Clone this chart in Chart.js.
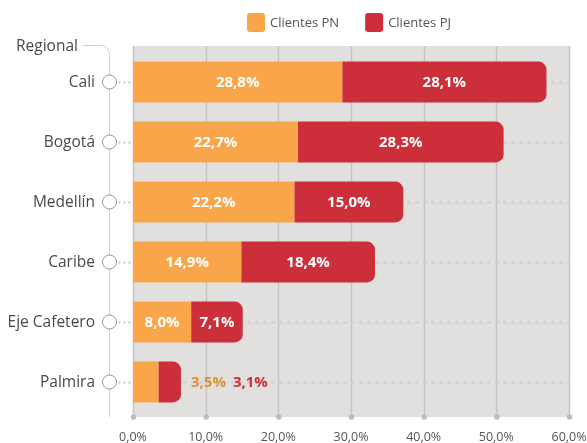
<!DOCTYPE html>
<html>
<head>
<meta charset="utf-8">
<script src="https://cdn.jsdelivr.net/npm/chart.js@4.4.0/dist/chart.umd.min.js"></script>
<style>
  html, body { margin: 0; padding: 0; background: #fff; }
  #wrap { width: 587px; height: 443px; }
</style>
</head>
<body>
<div id="wrap"><canvas id="chart" width="587" height="443"></canvas></div>
<script>
// datos del gráfico
const regionales = ["Cali", "Bogotá", "Medellín", "Caribe", "Eje Cafetero", "Palmira"];
const clientesPN = [28.8, 22.7, 22.2, 14.9, 8.0, 3.5];
const clientesPJ = [28.1, 28.3, 15.0, 18.4, 7.1, 3.1];
const seriesNames = ["Clientes PN", "Clientes PJ"];
const tickValues = [0, 10, 20, 30, 40, 50, 60];
const axisTitle = "Regional";

const colorPN = "#f9a64a";
const colorPJ = "#cc2f3a";
const colorPNText = "#d9913a";
const FONT = "'Open Sans', Lato, sans-serif";

const fmt = (v) => v.toFixed(1).replace(".", ",") + "%";

// fondo, rejilla, conectores y etiquetas de categoría
const decoPlugin = {
  id: "deco",
  beforeDatasetsDraw(chart) {
    const ctx = chart.ctx;
    const area = chart.chartArea;
    const xs = chart.scales.x;
    const ys = chart.scales.y;
    const top = area.top - 6;
    const bottom = area.bottom + 5;

    ctx.save();
    // fondo gris
    ctx.fillStyle = "#e1e0de";
    ctx.fillRect(area.left, top, area.right - area.left, bottom - top);

    // líneas verticales
    ctx.strokeStyle = "#c4c4c4";
    ctx.lineWidth = 1.5;
    tickValues.forEach((t) => {
      const x = Math.round(xs.getPixelForValue(t)) + 0.5;
      ctx.beginPath();
      ctx.moveTo(x, top);
      ctx.lineTo(x, bottom);
      ctx.stroke();
    });

    // líneas punteadas por categoría
    const cx = 109.5;
    regionales.forEach((r, i) => {
      const y = Math.round(ys.getPixelForValue(i)) + 0.5;
      ctx.setLineDash([4, 4]);
      ctx.strokeStyle = "#d0cfcd";
      ctx.lineWidth = 2;
      ctx.beginPath();
      ctx.moveTo(area.left + 2, y);
      ctx.lineTo(area.right, y);
      ctx.stroke();
      ctx.setLineDash([2, 3]);
      ctx.strokeStyle = "#c8c8c8";
      ctx.beginPath();
      ctx.moveTo(cx + 9, y);
      ctx.lineTo(area.left, y);
      ctx.stroke();
    });
    ctx.setLineDash([]);

    // conector "Regional"
    const ty = 45.5;
    ctx.strokeStyle = "#cfcfcf";
    ctx.lineWidth = 1;
    ctx.beginPath();
    ctx.moveTo(83, ty);
    ctx.lineTo(cx - 8, ty);
    ctx.arcTo(cx, ty, cx, ty + 8, 8);
    ctx.lineTo(cx, bottom);
    ctx.stroke();

    ctx.font = "15.5px " + FONT;
    ctx.fillStyle = "#4a4a4a";
    ctx.textAlign = "left";
    ctx.textBaseline = "middle";
    ctx.fillText(axisTitle, 16, ty + 1);

    // círculos y nombres
    regionales.forEach((r, i) => {
      const y = ys.getPixelForValue(i);
      ctx.beginPath();
      ctx.arc(cx, y, 7, 0, Math.PI * 2);
      ctx.fillStyle = "#fff";
      ctx.fill();
      ctx.strokeStyle = "#9a9a9a";
      ctx.lineWidth = 1;
      ctx.stroke();
      ctx.fillStyle = "#4a4a4a";
      ctx.textAlign = "right";
      ctx.fillText(r, 95, y + 1);
    });

    // puntos y etiquetas del eje x
    ctx.font = "12.5px " + FONT;
    ctx.textAlign = "center";
    tickValues.forEach((t) => {
      const x = xs.getPixelForValue(t);
      ctx.beginPath();
      ctx.arc(x + 0.5, bottom, 2.8, 0, Math.PI * 2);
      ctx.fillStyle = "#bdbdbd";
      ctx.fill();
      ctx.fillStyle = "#555";
      ctx.fillText(fmt(t), x, 437);
    });

    // leyenda
    ctx.font = "13px " + FONT;
    const colors = [colorPN, colorPJ];
    const gap = 26;
    let total = 0;
    const widths = seriesNames.map((n) => ctx.measureText(n).width);
    widths.forEach((w, i) => { total += 18 + 5 + w + (i ? 0 : gap); });
    let lx = (area.left + area.right) / 2 - total / 2 - 2;
    seriesNames.forEach((n, i) => {
      ctx.fillStyle = colors[i];
      ctx.beginPath();
      ctx.roundRect(lx, 13, 18, 19, 3);
      ctx.fill();
      ctx.fillStyle = "#555";
      ctx.textAlign = "left";
      ctx.fillText(n, lx + 23, 23);
      lx += 18 + 5 + widths[i] + gap;
    });
    ctx.restore();
  },
  afterDatasetsDraw(chart) {
    const ctx = chart.ctx;
    ctx.save();
    ctx.font = "bold 15px " + FONT;
    ctx.textBaseline = "middle";
    const ends = {};
    const outside = {};
    chart.data.datasets.forEach((ds, di) => {
      const meta = chart.getDatasetMeta(di);
      meta.data.forEach((bar, j) => {
        ends[j] = Math.max(ends[j] || 0, bar.x);
        const txt = fmt(ds.data[j]);
        const w = Math.abs(bar.x - bar.base);
        const tw = ctx.measureText(txt).width;
        if (w > tw + 10) {
          ctx.fillStyle = "#fff";
          ctx.textAlign = "center";
          ctx.fillText(txt, (bar.x + bar.base) / 2, bar.y + 1);
        } else {
          (outside[j] = outside[j] || []).push({ txt, y: bar.y + 1, color: di === 0 ? colorPNText : colorPJ });
        }
      });
    });
    Object.keys(outside).forEach((j) => {
      let x = ends[j] + 10;
      outside[j].forEach((o) => {
        ctx.fillStyle = o.color;
        ctx.textAlign = "left";
        ctx.fillText(o.txt, x, o.y);
        x += ctx.measureText(o.txt).width + 7;
      });
    });
    ctx.restore();
  }
};

new Chart(document.getElementById("chart"), {
  type: "bar",
  data: {
    labels: regionales,
    datasets: [
      { label: seriesNames[0], data: clientesPN, backgroundColor: colorPN, borderRadius: 0 },
      { label: seriesNames[1], data: clientesPJ, backgroundColor: colorPJ, borderRadius: 8, borderSkipped: "start" }
    ]
  },
  options: {
    indexAxis: "y",
    responsive: false,
    animation: false,
    devicePixelRatio: 1,
    layout: { padding: { left: 133, right: 18, top: 52, bottom: 31 } },
    datasets: { bar: { barPercentage: 0.68, categoryPercentage: 1 } },
    scales: {
      x: { display: false, stacked: true, min: 0, max: 60 },
      y: { display: false, stacked: true }
    },
    plugins: { legend: { display: false }, tooltip: { enabled: false } }
  },
  plugins: [decoPlugin]
});
</script>
</body>
</html>
